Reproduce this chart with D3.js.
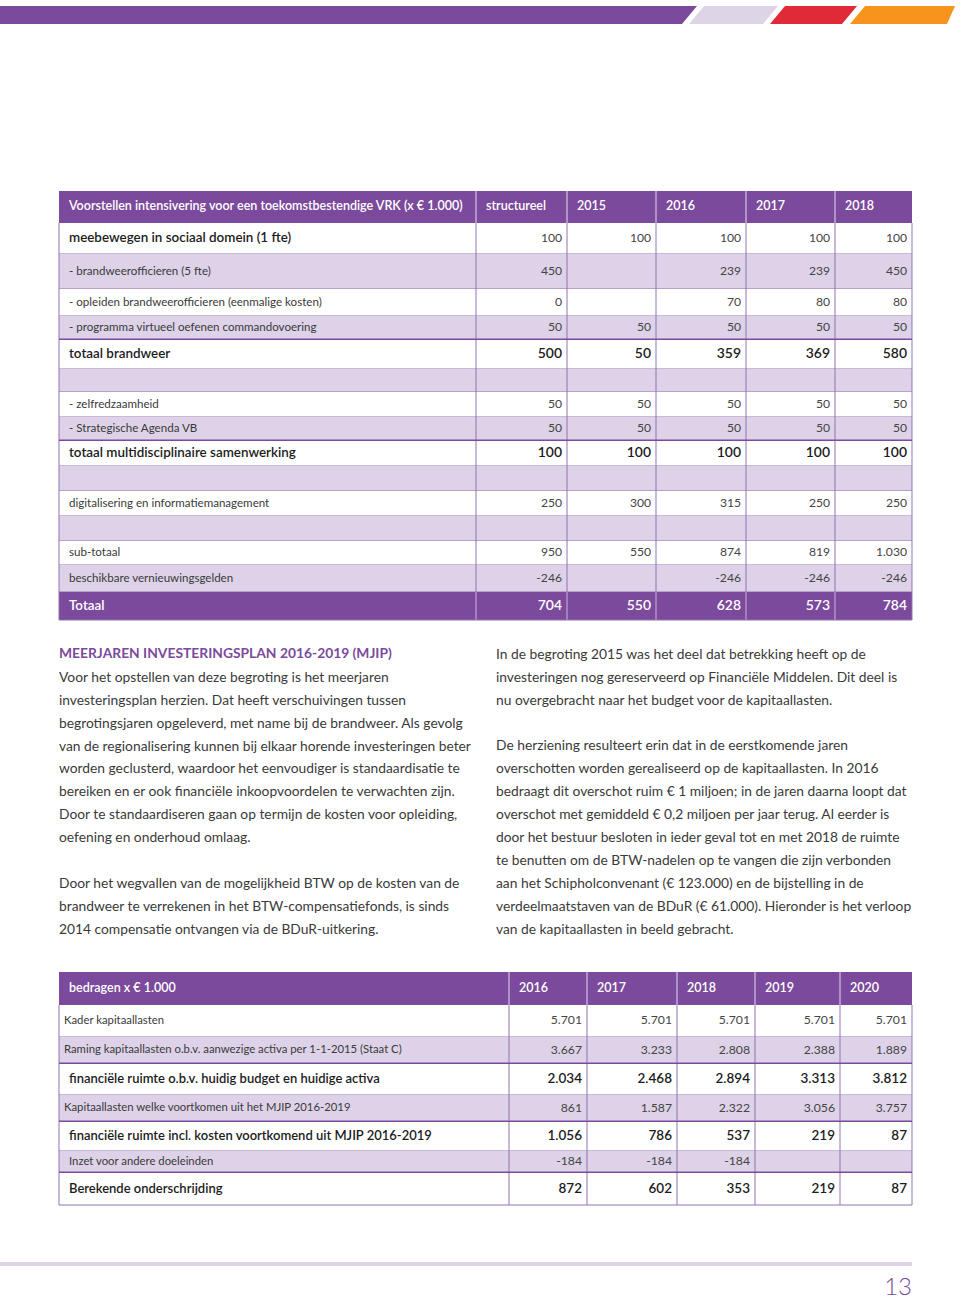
<!DOCTYPE html>
<html>
<head>
<meta charset="utf-8">
<script src="https://cdn.jsdelivr.net/npm/d3@7"></script>
<style>
html, body { margin: 0; padding: 0; background: #fff; }
</style>
</head>
<body>
<div id="page"></div>
<script>
// ---- data -------------------------------------------------------------
const t1Title = "Voorstellen intensivering voor een toekomstbestendige VRK (x € 1.000)";
const t1Columns = ["structureel", "2015", "2016", "2017", "2018"];
const t1Labels = [
    "meebewegen in sociaal domein (1 fte)",
    "- brandweerofficieren (5 fte)",
    "- opleiden brandweerofficieren (eenmalige kosten)",
    "- programma virtueel oefenen commandovoering",
    "totaal brandweer",
    "",
    "- zelfredzaamheid",
    "- Strategische Agenda VB",
    "totaal multidisciplinaire samenwerking",
    "",
    "digitalisering en informatiemanagement",
    "",
    "sub-totaal",
    "beschikbare vernieuwingsgelden",
    "Totaal"
];
const t1Values = [
    [100, 100, 100, 100, 100],
    [450, null, 239, 239, 450],
    [0, null, 70, 80, 80],
    [50, 50, 50, 50, 50],
    [500, 50, 359, 369, 580],
    [null, null, null, null, null],
    [50, 50, 50, 50, 50],
    [50, 50, 50, 50, 50],
    [100, 100, 100, 100, 100],
    [null, null, null, null, null],
    [250, 300, 315, 250, 250],
    [null, null, null, null, null],
    [950, 550, 874, 819, 1030],
    [-246, null, -246, -246, -246],
    [704, 550, 628, 573, 784]
];
const t1Kinds = ["lead", "sub", "sub", "sub", "bold", "empty", "sub", "sub", "bold",
                 "empty", "sub", "empty", "sub", "sub", "total"];

const t2Title = "bedragen x € 1.000";
const t2Columns = ["2016", "2017", "2018", "2019", "2020"];
const t2Labels = [
    "Kader kapitaallasten",
    "Raming kapitaallasten o.b.v. aanwezige activa per 1-1-2015 (Staat C)",
    "financiële ruimte o.b.v. huidig budget en huidige activa",
    "Kapitaallasten welke voortkomen uit het MJIP 2016-2019",
    "financiële ruimte incl. kosten voortkomend uit MJIP 2016-2019",
    "Inzet voor andere doeleinden",
    "Berekende onderschrijding"
];
const t2Values = [
    [5701, 5701, 5701, 5701, 5701],
    [3667, 3233, 2808, 2388, 1889],
    [2034, 2468, 2894, 3313, 3812],
    [861, 1587, 2322, 3056, 3757],
    [1056, 786, 537, 219, 87],
    [-184, -184, -184, null, null],
    [872, 602, 353, 219, 87]
];
const t2Kinds = ["small", "small", "bold", "small", "bold", "sub", "bold"];

const heading = "MEERJAREN INVESTERINGSPLAN 2016-2019 (MJIP)";
const leftLines = [
    "Voor het opstellen van deze begroting is het meerjaren",
    "investeringsplan herzien. Dat heeft verschuivingen tussen",
    "begrotingsjaren opgeleverd, met name bij de brandweer. Als gevolg",
    "van de regionalisering kunnen bij elkaar horende investeringen beter",
    "worden geclusterd, waardoor het eenvoudiger is standaardisatie te",
    "bereiken en er ook financiële inkoopvoordelen te verwachten zijn.",
    "Door te standaardiseren gaan op termijn de kosten voor opleiding,",
    "oefening en onderhoud omlaag.",
    "",
    "Door het wegvallen van de mogelijkheid BTW op de kosten van de",
    "brandweer te verrekenen in het BTW-compensatiefonds, is sinds",
    "2014 compensatie ontvangen via de BDuR-uitkering."
];
const rightLines = [
    "In de begroting 2015 was het deel dat betrekking heeft op de",
    "investeringen nog gereserveerd op Financiële Middelen. Dit deel is",
    "nu overgebracht naar het budget voor de kapitaallasten.",
    "",
    "De herziening resulteert erin dat in de eerstkomende jaren",
    "overschotten worden gerealiseerd op de kapitaallasten. In 2016",
    "bedraagt dit overschot ruim € 1 miljoen; in de jaren daarna loopt dat",
    "overschot met gemiddeld € 0,2 miljoen per jaar terug. Al eerder is",
    "door het bestuur besloten in ieder geval tot en met 2018 de ruimte",
    "te benutten om de BTW-nadelen op te vangen die zijn verbonden",
    "aan het Schipholconvenant (€ 123.000) en de bijstelling in de",
    "verdeelmaatstaven van de BDuR (€ 61.000). Hieronder is het verloop",
    "van de kapitaallasten in beeld gebracht."
];
const pageNumber = "13";

// ---- layout -----------------------------------------------------------
const width = 960, height = 1299;
const FONT = "Lato, 'Open Sans', sans-serif";
const purple = "#7b4a9c", lavender = "#ddd2e8", rule = "#9273b3";

const t1ColEdges = [59, 476, 567, 656, 746, 835, 912];
const t1RowEdges = [191, 223, 254, 289, 316, 340, 369, 392, 417, 441, 466, 491, 516, 541, 565, 592, 620];
const t1Thick = [3, 7];

const t2ColEdges = [59, 509, 587, 677, 755, 840, 912];
const t2RowEdges = [972, 1005, 1037, 1064, 1095, 1122, 1151, 1173, 1205];
const t2Thick = [1, 3, 5];

const nl = d3.formatLocale({ decimal: ",", thousands: ".", grouping: [3], currency: ["€ ", ""], minus: "-" });
const fmt = nl.format(",d");

const svg = d3.select("#page")
    .append("svg")
    .attr("width", width)
    .attr("height", height)
    .style("display", "block")
    .attr("font-family", FONT);

svg.append("rect").attr("width", width).attr("height", height).attr("fill", "#fff");

// size a font so a sample string gets the width it has in the reference
function fitSize(str, weight, target) {
    const t = svg.append("text")
        .attr("font-size", 100)
        .attr("font-weight", weight)
        .text(str);
    const w = t.node().getComputedTextLength();
    t.remove();
    return 100 * target / w;
}

const bodySize = fitSize(leftLines[2], 400, 404);
const headSize = fitSize(heading, 700, 333);
const hdrSize = fitSize(t1Title, 600, 394);
const boldSize = fitSize(t1Labels[8], 600, 227);
const regSize = fitSize(t1Labels[2], 400, 253);
const smallSize = fitSize(t2Labels[1], 400, 338);
const bold2Size = fitSize(t2Labels[4], 600, 363);

// ---- top bands ---------------------------------------------------------
const bands = [
    { c: purple, p: [[0, 6], [697, 6], [682, 24], [0, 24]] },
    { c: "#ddd5e6", p: [[704, 6], [778, 6], [763, 24], [689, 24]] },
    { c: "#e12a37", p: [[785, 6], [857, 6], [842, 24], [770, 24]] },
    { c: "#f7941e", p: [[865, 6], [955, 6], [947, 24], [850, 24]] }
];
svg.selectAll("polygon.band")
    .data(bands)
    .enter()
    .append("polygon")
    .attr("class", "band")
    .attr("points", d => d.p.map(q => q.join(",")).join(" "))
    .attr("fill", d => d.c);

// ---- tables ------------------------------------------------------------
function drawTable(opt) {
    const keys = ["label"].concat(opt.columns).concat(["end"]);
    const x = d3.scaleOrdinal().domain(keys).range(opt.colEdges);
    const rowKeys = d3.range(opt.rowEdges.length);
    const y = d3.scaleOrdinal().domain(rowKeys).range(opt.rowEdges);
    const next = k => keys[keys.indexOf(k) + 1];
    const g = svg.append("g");
    const left = x("label"), right = x("end");

    // header
    g.append("rect")
        .attr("x", left).attr("y", y(0))
        .attr("width", right - left).attr("height", y(1) - y(0))
        .attr("fill", purple);
    g.append("text")
        .attr("x", left + 10).attr("y", (y(0) + y(1)) / 2 - 1).attr("dy", "0.35em")
        .attr("fill", "#fff").attr("font-weight", 600).attr("font-size", opt.hdrSize)
        .text(opt.title);
    g.selectAll("text.col")
        .data(opt.columns)
        .enter()
        .append("text")
        .attr("class", "col")
        .attr("x", d => x(d) + 10).attr("y", (y(0) + y(1)) / 2 - 1).attr("dy", "0.35em")
        .attr("fill", "#fff").attr("font-weight", 600).attr("font-size", opt.hdrSize)
        .text(d => d);

    const rows = opt.labels.map((label, i) => ({
        label, i, kind: opt.kinds[i], values: opt.values[i],
        y0: y(i + 1), y1: y(i + 2)
    }));

    const row = g.selectAll("g.row")
        .data(rows)
        .enter()
        .append("g")
        .attr("class", "row");

    row.append("rect")
        .attr("x", left).attr("y", d => d.y0)
        .attr("width", right - left).attr("height", d => d.y1 - d.y0)
        .attr("fill", d => d.kind === "total" ? purple : (d.i % 2 ? lavender : "#fff"));

    // vertical separators
    const inner = keys.slice(1, -1);
    g.selectAll("line.hsep")
        .data(inner)
        .enter()
        .append("line")
        .attr("x1", d => x(d)).attr("x2", d => x(d))
        .attr("y1", y(0)).attr("y2", y(1))
        .attr("stroke", "#e6dcef").attr("stroke-width", 1);
    row.selectAll("line.vsep")
        .data(d => keys.map(k => ({ k, row: d })))
        .enter()
        .append("line")
        .attr("class", "vsep")
        .attr("x1", d => x(d.k)).attr("x2", d => x(d.k))
        .attr("y1", d => d.row.y0).attr("y2", d => d.row.y1)
        .attr("stroke", d => d.row.kind === "total" && d.k !== "label" && d.k !== "end" ? "#c9b6dc" : rule)
        .attr("stroke-width", 1);

    // horizontal rules
    row.append("line")
        .attr("x1", left).attr("x2", right)
        .attr("y1", d => d.y1).attr("y2", d => d.y1)
        .attr("stroke", d => opt.thick.includes(d.i) ? purple : rule)
        .attr("stroke-width", d => opt.thick.includes(d.i) ? 3 : 1);

    const labelStyle = {
        lead: { w: 600, s: opt.boldSize, c: "#1c1c1c", dx: 10 },
        bold: { w: 600, s: opt.boldSize, c: "#1c1c1c", dx: 10 },
        sub: { w: 400, s: opt.regSize, c: "#3a3a3a", dx: 10 },
        small: { w: 400, s: opt.smallSize, c: "#3a3a3a", dx: 5 },
        total: { w: 600, s: opt.boldSize, c: "#fff", dx: 10 },
        empty: { w: 400, s: opt.regSize, c: "#3a3a3a", dx: 10 }
    };
    const light = { w: 400, s: opt.numSize, c: "#444" };
    const numStyle = {
        lead: light,
        bold: { w: 600, s: opt.boldSize * 1.04, c: "#1c1c1c" },
        sub: light,
        small: light,
        total: { w: 600, s: opt.boldSize * 1.04, c: "#fff" },
        empty: light
    };

    row.append("text")
        .attr("x", d => left + labelStyle[d.kind].dx)
        .attr("y", d => (d.y0 + d.y1) / 2 - 1).attr("dy", "0.35em")
        .attr("font-weight", d => labelStyle[d.kind].w)
        .attr("font-size", d => labelStyle[d.kind].s)
        .attr("fill", d => labelStyle[d.kind].c)
        .text(d => d.label);

    row.selectAll("text.num")
        .data(d => opt.columns.map((c, j) => ({ c, v: d.values[j], row: d })).filter(e => e.v !== null))
        .enter()
        .append("text")
        .attr("class", "num")
        .attr("x", d => x(next(d.c)) - 5)
        .attr("y", d => (d.row.y0 + d.row.y1) / 2 - 1).attr("dy", "0.35em")
        .attr("text-anchor", "end")
        .attr("font-weight", d => numStyle[d.row.kind].w)
        .attr("font-size", d => numStyle[d.row.kind].s)
        .attr("fill", d => numStyle[d.row.kind].c)
        .text(d => fmt(d.v));
}

drawTable({
    title: t1Title, columns: t1Columns, labels: t1Labels, values: t1Values, kinds: t1Kinds,
    colEdges: t1ColEdges, rowEdges: t1RowEdges, thick: t1Thick,
    hdrSize, boldSize, regSize, smallSize: regSize, numSize: regSize * 1.05
});

drawTable({
    title: t2Title, columns: t2Columns, labels: t2Labels, values: t2Values, kinds: t2Kinds,
    colEdges: t2ColEdges, rowEdges: t2RowEdges, thick: t2Thick,
    hdrSize, boldSize: bold2Size, regSize: smallSize, smallSize, numSize: smallSize * 1.08
});

// ---- body text ---------------------------------------------------------
const lineStep = 22.9;
svg.append("text")
    .attr("x", 59).attr("y", 653).attr("dy", "0.35em")
    .attr("font-weight", 700).attr("font-size", headSize)
    .attr("fill", purple)
    .text(heading);

svg.selectAll("text.left")
    .data(leftLines)
    .enter()
    .append("text")
    .attr("class", "left")
    .attr("x", 59).attr("y", (d, i) => 677 + i * lineStep).attr("dy", "0.35em")
    .attr("font-size", bodySize).attr("fill", "#3a3a3a")
    .text(d => d);

svg.selectAll("text.right")
    .data(rightLines)
    .enter()
    .append("text")
    .attr("class", "right")
    .attr("x", 496).attr("y", (d, i) => 654 + i * lineStep).attr("dy", "0.35em")
    .attr("font-size", bodySize).attr("fill", "#3a3a3a")
    .text(d => d);

// ---- footer ------------------------------------------------------------
svg.append("rect")
    .attr("x", 0).attr("y", 1262).attr("width", 912).attr("height", 4)
    .attr("fill", "#ddd5e6");
svg.append("text")
    .attr("x", 912).attr("y", 1295)
    .attr("text-anchor", "end")
    .attr("font-size", 24).attr("font-weight", 300)
    .attr("fill", purple)
    .text(pageNumber);
</script>
</body>
</html>
